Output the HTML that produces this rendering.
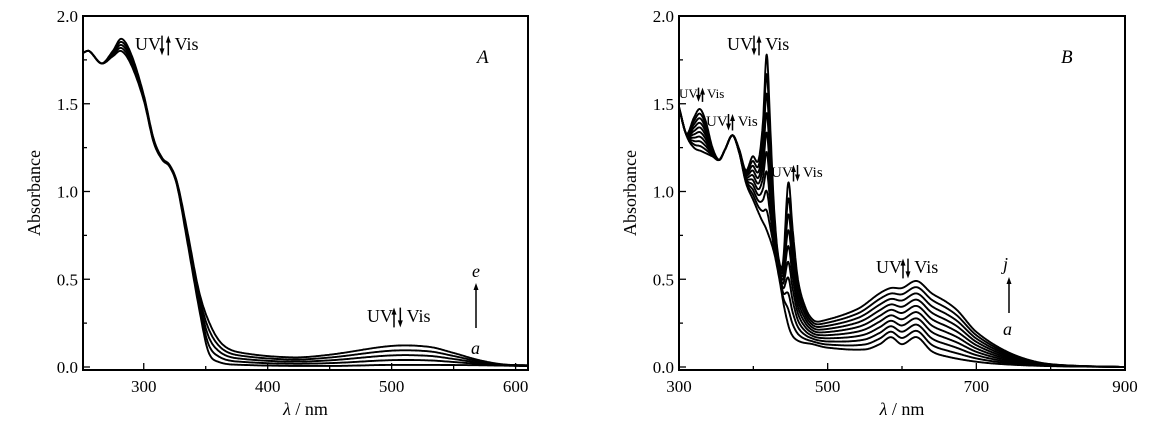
<!DOCTYPE html>
<html><head><meta charset="utf-8">
<style>
html,body{margin:0;padding:0;background:#fff;}
svg{display:block;}
text{font-family:"Liberation Serif",serif;fill:#000;}
</style></head>
<body>
<svg id="s" width="1153" height="435" viewBox="0 0 1153 435" xmlns="http://www.w3.org/2000/svg"></svg>
<script>
const S=document.getElementById('s');let h='';
function interp(p,x){for(let i=0;i<p.length-1;i++){if(x>=p[i][0]&&x<=p[i+1][0]){
 const p0=p[Math.max(0,i-1)],p1=p[i],p2=p[i+1],p3=p[Math.min(p.length-1,i+2)];
 const t=(x-p1[0])/(p2[0]-p1[0]);
 const m1=(p2[1]-p0[1])/(p2[0]-p0[0])*(p2[0]-p1[0]),m2=(p3[1]-p1[1])/(p3[0]-p1[0])*(p2[0]-p1[0]);
 const t2=t*t,t3=t2*t;
 return (2*t3-3*t2+1)*p1[1]+(t3-2*t2+t)*m1+(-2*t3+3*t2)*p2[1]+(t3-t2)*m2;}}return p[p.length-1][1];}
function panel(P){
 const X=v=>P.x0+(v-P.xmin)/(P.xmax-P.xmin)*(P.x1-P.x0);
 const Y=v=>P.y0-(v/2)*(P.y0-P.y2);
 const xs=[];for(let x=P.xmin;x<=P.xmax;x+=0.5)xs.push(x);
 const top=xs.map(x=>interp(P.top,x)),bot=xs.map(x=>interp(P.bot,x));
 for(let c=0;c<P.n;c++){const t=c/(P.n-1);let d='';
  xs.forEach((x,i)=>{const v=bot[i]+(top[i]-bot[i])*t;d+=(i?'L':'M')+X(x).toFixed(1)+' '+Y(v).toFixed(1);});
  h+=`<path d="${d}" fill="none" stroke="#000" stroke-width="1.9" stroke-linejoin="round"/>`;}
 h+=`<rect x="${P.x0}" y="${P.y2}" width="${P.x1-P.x0}" height="${P.yb-P.y2}" fill="none" stroke="#000" stroke-width="2"/>`;
 for(let v=0;v<=2.001;v+=0.25){const y=Y(v),maj=Math.abs(v*2-Math.round(v*2))<1e-6;
  h+=`<line x1="${P.x0}" x2="${P.x0+(maj?7:4)}" y1="${y}" y2="${y}" stroke="#000" stroke-width="1.3"/>`;
  if(maj)h+=`<text x="${P.x0-5}" y="${y+6}" font-size="17" text-anchor="end">${v.toFixed(1)}</text>`;}
 P.xt.forEach(v=>{const x=X(v);h+=`<line x1="${x}" x2="${x}" y1="${P.yb}" y2="${P.yb-7}" stroke="#000" stroke-width="1.3"/>`;h+=`<text x="${x}" y="${P.yb+22}" font-size="17" text-anchor="middle">${v}</text>`;});
 P.xm.forEach(v=>{const x=X(v);h+=`<line x1="${x}" x2="${x}" y1="${P.yb}" y2="${P.yb-4}" stroke="#000" stroke-width="1.3"/>`;});
 h+=`<text transform="translate(${P.ax},${(P.y2+P.yb)/2}) rotate(-90)" font-size="18" text-anchor="middle">Absorbance</text>`;
 h+=`<text x="${(P.x0+P.x1)/2}" y="${P.yb+45}" font-size="18" text-anchor="middle"><tspan font-style="italic">λ</tspan> / nm</text>`;
}
function arrow(x,y1,y2,w){const d=y2<y1?1:-1;h+=`<line x1="${x}" x2="${x}" y1="${y1}" y2="${y2+d*4}" stroke="#000" stroke-width="${w||1.5}"/><polygon points="${x-2.5},${y2+d*7} ${x+2.5},${y2+d*7} ${x},${y2}" fill="#000"/>`;}
function uv(x,y,fs,order,gap){gap=gap||fs*0.35;
 h+=`<text x="${x}" y="${y}" font-size="${fs}">UV</text>`;
 const ax=x+fs*1.5,top=y-fs*0.8,bot=y+fs*0.3;
 if(order=='du'){arrow(ax,top,bot);arrow(ax+gap,bot,top);}else{arrow(ax,bot,top);arrow(ax+gap,top,bot);}
 h+=`<text x="${ax+gap+fs*0.35}" y="${y}" font-size="${fs}">Vis</text>`;}
panel({x0:83,x1:528,y2:16,y0:367,yb:370,xmin:251,xmax:610,n:5,ax:40,
 xt:[300,400,500,600],xm:[350,450,550],
 top:[[251,1.79],[256,1.80],[266,1.73],[275,1.80],[282,1.87],[290,1.78],[300,1.55],[308,1.30],[315,1.19],[321,1.15],[327,1.05],[335,0.78],[345,0.42],[355,0.22],[365,0.12],[380,0.08],[420,0.055],[450,0.07],[500,0.12],[530,0.115],[550,0.08],[570,0.04],[590,0.015],[610,0.01]],
 bot:[[251,1.79],[256,1.80],[266,1.73],[275,1.77],[282,1.80],[290,1.72],[300,1.52],[308,1.28],[315,1.18],[321,1.14],[327,1.03],[335,0.72],[345,0.32],[352,0.09],[360,0.03],[380,0.012],[450,0.006],[500,0.012],[570,0.01],[610,0.005]]});
panel({x0:679,x1:1125,y2:16,y0:367,yb:370,xmin:300,xmax:900,n:10,ax:636,
 xt:[300,500,700,900],xm:[400,600,800],
 top:[[300,1.48],[310,1.33],[320,1.42],[328,1.47],[336,1.40],[345,1.25],[354,1.18],[362,1.24],[372,1.32],[381,1.24],[390,1.12],[399,1.20],[407,1.18],[413,1.40],[418,1.78],[423,1.35],[428,0.9],[434,0.62],[440,0.60],[447,1.05],[453,0.78],[460,0.5],[470,0.34],[480,0.27],[490,0.26],[540,0.33],[570,0.42],[585,0.45],[600,0.45],[620,0.49],[640,0.42],[660,0.37],[675,0.32],[700,0.2],[740,0.09],[780,0.03],[820,0.01],[900,0]],
 bot:[[300,1.48],[310,1.32],[320,1.25],[330,1.23],[345,1.20],[354,1.18],[362,1.24],[372,1.32],[381,1.22],[390,1.05],[400,0.95],[410,0.85],[418,0.78],[428,0.65],[435,0.5],[442,0.33],[450,0.2],[460,0.15],[480,0.13],[500,0.11],[550,0.10],[570,0.13],[585,0.17],[600,0.13],[620,0.17],[640,0.09],[660,0.06],[700,0.03],[740,0.015],[800,0.005],[900,0]]});
uv(135,50,18,'du');
h+=`<text x="477" y="63" font-size="19" font-style="italic">A</text>`;
h+=`<text x="472" y="277" font-size="18" font-style="italic">e</text>`;
arrow(476,328,283);
h+=`<text x="471" y="354" font-size="18" font-style="italic">a</text>`;
uv(367,322,18,'ud');
uv(727,50,18,'du',5);
h+=`<text x="1061" y="63" font-size="19" font-style="italic">B</text>`;
uv(679,98,13,'du',4);
uv(706,126,15,'du',4);
uv(771,177,15,'ud',4);
uv(876,273,18,'ud',5);
h+=`<text x="1003" y="270" font-size="18" font-style="italic">j</text>`;
arrow(1009,313,277);
h+=`<text x="1003" y="335" font-size="18" font-style="italic">a</text>`;
S.innerHTML=h;
</script>
</body></html>
